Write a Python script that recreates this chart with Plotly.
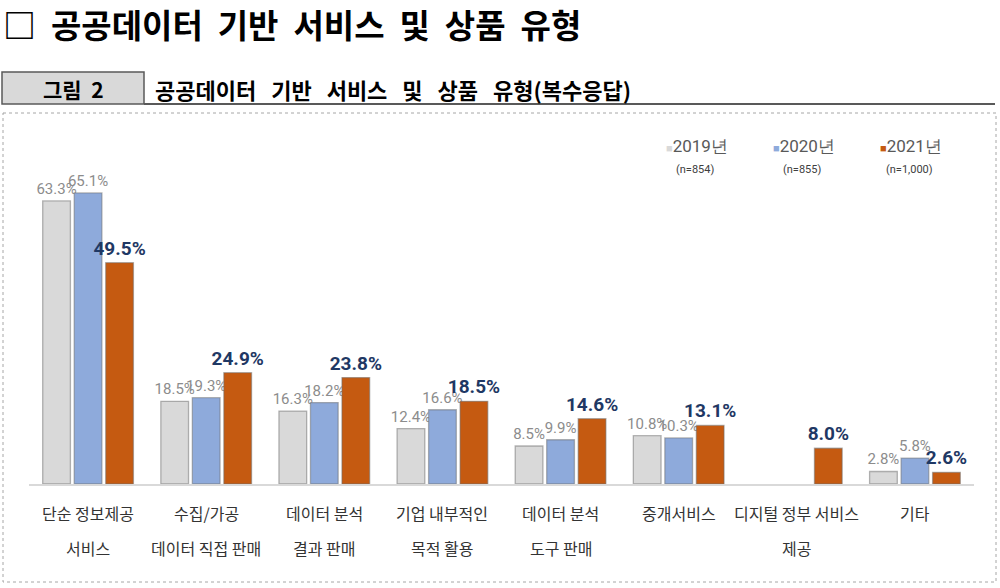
import plotly.graph_objects as go

categories = ["단순 정보제공<br>서비스", "수집/가공<br>데이터 직접 판매", "데이터 분석<br>결과 판매",
              "기업 내부적인<br>목적 활용", "데이터 분석<br>도구 판매", "중개서비스",
              "디지털 정부 서비스<br>제공", "기타"]
cat_keys = ["c%d" % i for i in range(len(categories))]
v2019 = [63.3, 18.5, 16.3, 12.4, 8.5, 10.8, None, 2.8]
v2020 = [65.1, 19.3, 18.2, 16.6, 9.9, 10.3, None, 5.8]
v2021 = [49.5, 24.9, 23.8, 18.5, 14.6, 13.1, 8.0, 2.6]
series_names = ["2019년", "2020년", "2021년"]
series_n = ["(n=854)", "(n=855)", "(n=1,000)"]
colors = ["#d9d9d9", "#8eaadb", "#c55a11"]

W, H = 1000, 588
def px(x):
    return x / W
def py(y):
    return (H - y) / H

FONT = "Noto Sans CJK KR"
fig = go.Figure()
for vals, name, col, yr in zip([v2019, v2020, v2021], series_names, colors, range(3)):
    bold = yr == 2
    fig.add_trace(go.Bar(
        x=cat_keys, y=vals, name=name,
        marker=dict(color=col, line=dict(color="rgba(110,110,110,0.5)", width=1.3)),
        text=[None if v is None else f"{v:.1f}%" for v in vals],
        textposition="outside", constraintext="none", cliponaxis=False,
        textfont=dict(family="Roboto",
                      size=19 if bold else 15,
                      color="#1f3864" if bold else "#8c8c8c",
                      weight="bold" if bold else "normal"),
        showlegend=False, hoverinfo="skip",
    ))

annotations = []
title = "&nbsp;&nbsp;".join(["□", "공공데이터", "기반", "서비스", "및", "상품", "유형"])
annotations.append(dict(x=px(1), y=py(24), xref="paper", yref="paper", xanchor="left", yanchor="middle",
                        text=f"<b>{title}</b>", showarrow=False,
                        font=dict(family=FONT, size=33, color="#000000")))
annotations.append(dict(x=px(73), y=py(89), xref="paper", yref="paper", xanchor="center", yanchor="middle",
                        text="<b>그림&nbsp; 2</b>", showarrow=False,
                        font=dict(family=FONT, size=21, color="#000000")))
sub = "&nbsp;&nbsp; ".join(["공공데이터", "기반", "서비스", "및", "상품", "유형(복수응답)"])
annotations.append(dict(x=px(153), y=py(89), xref="paper", yref="paper", xanchor="left", yanchor="middle",
                        text=f"<b>{sub}</b>", showarrow=False,
                        font=dict(family=FONT, size=22, color="#000000")))
for k, c in zip(cat_keys, categories):
    parts = c.split("<br>")
    for i, p in enumerate(parts):
        annotations.append(dict(x=k, y=py(513 + 35 * i), xref="x", yref="paper",
                                xanchor="center", yanchor="middle", text=p, showarrow=False,
                                font=dict(family=FONT, size=16, color="#333333")))
leg_x = [664, 771, 878]
for lx, name, n, col in zip(leg_x, series_names, series_n, colors):
    annotations.append(dict(x=px(lx), y=py(146), xref="paper", yref="paper", xanchor="left", yanchor="middle",
                            text=f"<span style='color:{col};font-size:11px'>■</span>{name}", showarrow=False,
                            font=dict(family="Roboto", size=17, color="#595959")))
    annotations.append(dict(x=px(lx + 31), y=py(169), xref="paper", yref="paper", xanchor="center", yanchor="middle",
                            text=n, showarrow=False,
                            font=dict(family="Roboto", size=11, color="#404040")))

shapes = [
    dict(type="rect", xref="paper", yref="paper", x0=px(3), x1=px(996), y0=py(113), y1=py(582),
         line=dict(color="#a6a6a6", width=1, dash="dot")),
    dict(type="rect", xref="paper", yref="paper", x0=px(2), x1=px(144), y0=py(72), y1=py(104),
         fillcolor="#d9d9d9", line=dict(color="#595959", width=1.5)),
    dict(type="line", xref="paper", yref="paper", x0=px(144), x1=px(995), y0=py(104), y1=py(104),
         line=dict(color="#595959", width=2)),
]

fig.update_layout(
    width=W, height=H, margin=dict(l=0, r=0, t=0, b=0),
    paper_bgcolor="white", plot_bgcolor="white",
    barmode="group", bargap=0.2, bargroupgap=0.12,
    xaxis=dict(domain=[px(29), px(974)], showticklabels=False, showline=True, linecolor="#d9d9d9",
               linewidth=1.5, ticks="", showgrid=False, zeroline=False, fixedrange=True),
    yaxis=dict(domain=[py(484), py(171)], range=[0, 70], visible=False, showgrid=False, zeroline=False,
               fixedrange=True),
    annotations=annotations, shapes=shapes,
    font=dict(family=FONT), hovermode=False,
)
fig.write_html("out.html", config={"displayModeBar": False},
               post_script="document.body.style.margin='0';document.body.style.overflow='hidden';")
